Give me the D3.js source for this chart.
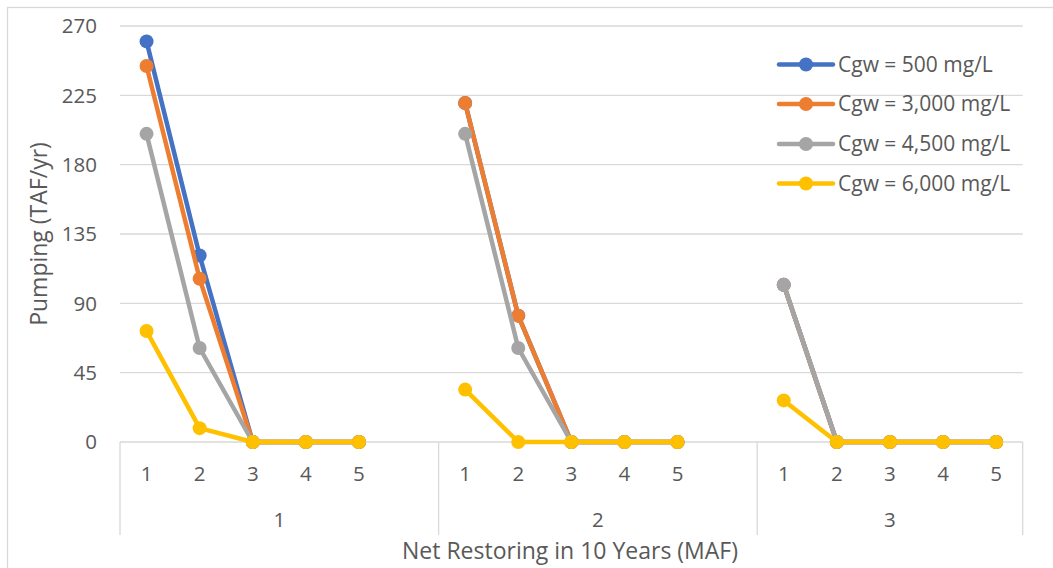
<!DOCTYPE html>
<html>
<head>
<meta charset="utf-8">
<script src="https://cdn.jsdelivr.net/npm/d3@7"></script>
<style>
  body { margin: 0; background: #fff; }
  text { font-family: "Open Sans", "Noto Sans", sans-serif; fill: #595959; }
</style>
</head>
<body>
<div id="chart"></div>
<script>
// Chart size
var width = 1053;
var height = 568;

// Category axis: outer groups and inner labels (groups 1 and 2 keep an empty slot at the end)
var groups = ["1", "2", "3"];
var innerLabels = ["1", "2", "3", "4", "5"];
var blankSlots = [1, 1, 0];

// Series names and values (TAF/yr), one row per group
var seriesNames = ["Cgw = 500 mg/L", "Cgw = 3,000 mg/L", "Cgw = 4,500 mg/L", "Cgw = 6,000 mg/L"];
var cgw500  = [[260, 121, 0, 0, 0], [220, 82, 0, 0, 0], [102, 0, 0, 0, 0]];
var cgw3000 = [[244, 106, 0, 0, 0], [220, 82, 0, 0, 0], [102, 0, 0, 0, 0]];
var cgw4500 = [[200, 61, 0, 0, 0], [200, 61, 0, 0, 0], [102, 0, 0, 0, 0]];
var cgw6000 = [[72, 9, 0, 0, 0], [34, 0, 0, 0, 0], [27, 0, 0, 0, 0]];
var yTicks = [0, 45, 90, 135, 180, 225, 270];

var seriesValues = [cgw500, cgw3000, cgw4500, cgw6000];
var colors = ["#4472C4", "#ED7D31", "#A5A5A5", "#FFC000"];

// plot area
var plotLeft = 120, plotRight = 1022.7, plotTop = 26, plotBottom = 442;

// build slot keys for the band scale
var slots = [];
groups.forEach(function(g, gi) {
  innerLabels.forEach(function(c) { slots.push(g + "|" + c); });
  for (var b = 0; b < blankSlots[gi]; b++) slots.push(g + "|_" + b);
});

var x = d3.scaleBand().domain(slots).range([plotLeft, plotRight]).padding(0);
var y = d3.scaleLinear().domain([0, 270]).range([plotBottom, plotTop]);

function cx(g, c) { return x(g + "|" + c) + x.bandwidth() / 2; }

var svg = d3.select("#chart")
  .append("svg")
  .attr("width", width)
  .attr("height", height);

// chart frame
svg.append("rect")
  .attr("x", 7.5).attr("y", 7.5)
  .attr("width", 1060).attr("height", 600)
  .attr("fill", "#fff")
  .attr("stroke", "#d9d9d9")
  .attr("stroke-width", 1.3);

// horizontal gridlines
svg.append("g")
  .selectAll("line")
  .data(yTicks)
  .enter()
  .append("line")
  .attr("x1", plotLeft).attr("x2", plotRight)
  .attr("y1", function(d) { return y(d); })
  .attr("y2", function(d) { return y(d); })
  .attr("stroke", "#d9d9d9")
  .attr("stroke-width", 1.3);

// y tick labels
svg.append("g")
  .selectAll("text")
  .data(yTicks)
  .enter()
  .append("text")
  .attr("x", 97)
  .attr("y", function(d) { return y(d); })
  .attr("dy", "0.35em")
  .attr("text-anchor", "end")
  .style("font-size", "20.5px")
  .text(function(d) { return d; });

// y axis title
svg.append("text")
  .attr("transform", "translate(39," + 234 + ") rotate(-90)")
  .attr("text-anchor", "middle")
  .attr("dy", "0.35em")
  .style("font-size", "23px")
  .text("Pumping (TAF/yr)");

// category separators (multi-level axis)
var groupEdges = [plotLeft];
groups.forEach(function(g) {
  var own = slots.filter(function(s) { return s.split("|")[0] === g; });
  groupEdges.push(x(own[own.length - 1]) + x.bandwidth());
});

svg.append("g")
  .selectAll("line")
  .data(groupEdges)
  .enter()
  .append("line")
  .attr("x1", function(d) { return d; })
  .attr("x2", function(d) { return d; })
  .attr("y1", plotBottom)
  .attr("y2", 535)
  .attr("stroke", "#d9d9d9")
  .attr("stroke-width", 1.3);

// inner category labels
groups.forEach(function(g) {
  svg.append("g")
    .selectAll("text")
    .data(innerLabels)
    .enter()
    .append("text")
    .attr("x", function(c) { return cx(g, c); })
    .attr("y", 474)
    .attr("dy", "0.35em")
    .attr("text-anchor", "middle")
    .style("font-size", "20.5px")
    .text(function(c) { return c; });
});

// group labels
svg.append("g")
  .selectAll("text")
  .data(groups)
  .enter()
  .append("text")
  .attr("x", function(g, i) { return (groupEdges[i] + groupEdges[i + 1]) / 2; })
  .attr("y", 520)
  .attr("dy", "0.35em")
  .attr("text-anchor", "middle")
  .style("font-size", "20.5px")
  .text(function(g) { return g; });

// x axis title
svg.append("text")
  .attr("x", 570)
  .attr("y", 551)
  .attr("dy", "0.35em")
  .attr("text-anchor", "middle")
  .style("font-size", "23px")
  .text("Net Restoring in 10 Years (MAF)");

// series: line per group, then markers
var line = d3.line()
  .x(function(d) { return d.x; })
  .y(function(d) { return d.y; });

seriesValues.forEach(function(vals, si) {
  var gS = svg.append("g");
  groups.forEach(function(g, gi) {
    var pts = vals[gi].map(function(v, ci) {
      return { x: cx(g, innerLabels[ci]), y: y(v) };
    });
    gS.append("path")
      .attr("d", line(pts))
      .attr("fill", "none")
      .attr("stroke", colors[si])
      .attr("stroke-width", 4.5)
      .attr("stroke-linejoin", "round")
      .attr("stroke-linecap", "round");
    gS.selectAll(null)
      .data(pts)
      .enter()
      .append("circle")
      .attr("cx", function(d) { return d.x; })
      .attr("cy", function(d) { return d.y; })
      .attr("r", 7)
      .attr("fill", colors[si]);
  });
});

// legend
var legendY = [64.5, 104, 144, 183.5];
var legend = svg.append("g");
seriesNames.forEach(function(name, i) {
  var row = legend.append("g").attr("transform", "translate(0," + legendY[i] + ")");
  row.append("line")
    .attr("x1", 779).attr("x2", 833)
    .attr("stroke", colors[i])
    .attr("stroke-width", 4.5)
    .attr("stroke-linecap", "round");
  row.append("circle")
    .attr("cx", 806).attr("r", 7)
    .attr("fill", colors[i]);
  row.append("text")
    .attr("x", 838)
    .attr("dy", "0.35em")
    .style("font-size", "21px")
    .text(name);
});
</script>
</body>
</html>
